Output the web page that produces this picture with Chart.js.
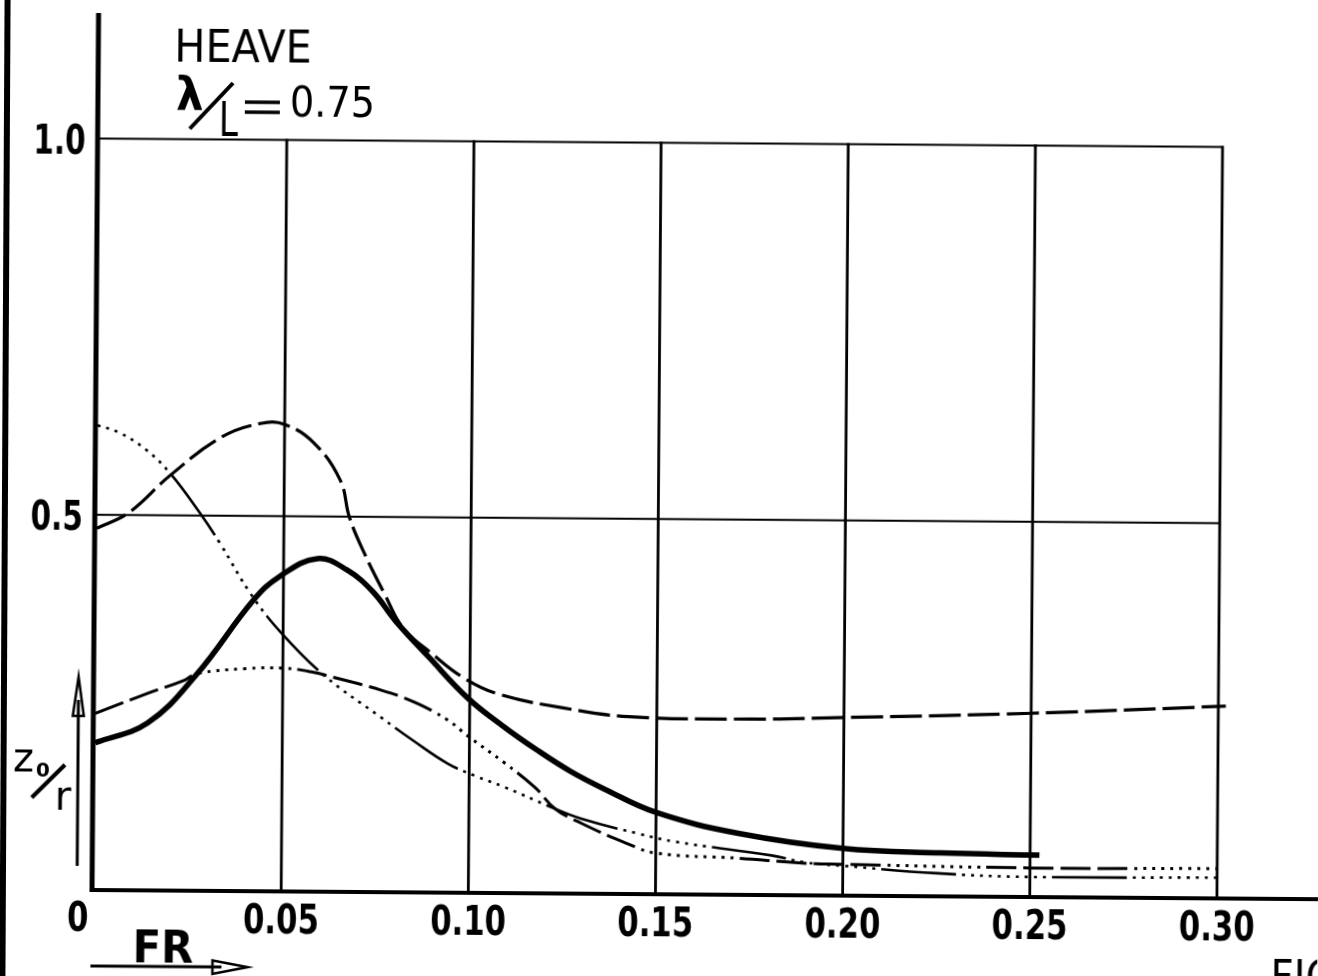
<!DOCTYPE html>
<html>
<head>
<meta charset="utf-8">
<title>Heave z0/r vs FR</title>
<script src="https://cdn.jsdelivr.net/npm/chart.js@4.4.1/dist/chart.umd.min.js"></script>
<style>
  html, body { margin: 0; padding: 0; background: #fff; overflow: hidden; }
  #wrap { position: relative; width: 1318px; height: 976px; }
  #heaveChart { position: absolute; left: 0; top: 0; transform: rotate(0.43deg); transform-origin: 92px 891px; }
  #edge { position: absolute; left: 2px; top: 0; width: 6px; height: 976px; background: #000; transform: rotate(0.3deg); }
</style>
</head>
<body>
<div id="wrap">
  <canvas id="heaveChart" width="1318" height="976"></canvas>
  <div id="edge"></div>
</div>
<script>
// heave response curves, lambda/L = 0.75
const frHeavy = [0, 0.014, 0.027, 0.042, 0.049, 0.059, 0.067, 0.074, 0.080, 0.089, 0.0995, 0.109, 0.118, 0.127, 0.136, 0.150, 0.172, 0.200, 0.226, 0.2525];
const zHeavy  = [0.197, 0.224, 0.289, 0.388, 0.420, 0.444, 0.429, 0.400, 0.362, 0.314, 0.260, 0.223, 0.192, 0.164, 0.141, 0.110, 0.083, 0.064, 0.059, 0.057];

const frLongDash = [0, 0.0085, 0.0195, 0.033, 0.0435, 0.050, 0.058, 0.065, 0.0675, 0.0716, 0.077, 0.082, 0.090, 0.098, 0.1075, 0.125, 0.1425, 0.175, 0.200, 0.250, 0.302];
const zLongDash  = [0.482, 0.503, 0.553, 0.604, 0.623, 0.622, 0.597, 0.548, 0.499, 0.451, 0.398, 0.353, 0.318, 0.288, 0.266, 0.248, 0.237, 0.235, 0.238, 0.2455, 0.257];

const frChain = [0, 0.006, 0.013, 0.0195, 0.0276, 0.033, 0.0412, 0.0493, 0.061, 0.0762, 0.085, 0.0942, 0.1015, 0.1095, 0.122, 0.130, 0.145, 0.1555, 0.181, 0.190, 0.200, 0.225, 0.250, 0.300];
const zChain  = [0.619, 0.609, 0.587, 0.556, 0.503, 0.463, 0.397, 0.346, 0.289, 0.234, 0.203, 0.173, 0.157, 0.142, 0.116, 0.101, 0.082, 0.071, 0.054, 0.045, 0.041, 0.032, 0.028, 0.029];

const frDashDot = [0, 0.0138, 0.0237, 0.027, 0.040, 0.0504, 0.058, 0.0638, 0.0762, 0.0853, 0.0941, 0.0995, 0.1095, 0.1176, 0.123, 0.130, 0.142, 0.150, 0.172, 0.190, 0.200, 0.250, 0.300];
const zDashDot  = [0.236, 0.263, 0.281, 0.290, 0.297, 0.298, 0.293, 0.286, 0.270, 0.254, 0.231, 0.210, 0.174, 0.142, 0.114, 0.095, 0.069, 0.056, 0.050, 0.044, 0.043, 0.040, 0.041];

const xTicks = [0.05, 0.10, 0.15, 0.20, 0.25, 0.30];
const xTickLabels = ['0.05', '0.10', '0.15', '0.20', '0.25', '0.30'];
const yTicks = [0.5, 1.0];
const yTickLabels = ['0.5', '1.0'];

function pts(xs, ys) {
  return xs.map((x, i) => ({ x: x, y: ys[i] }));
}

function repeat(pattern, n) {
  let out = [];
  for (let i = 0; i < n; i++) out = out.concat(pattern);
  return out;
}

function label(ctx, str, x, y, size, weight, sx, align) {
  ctx.save();
  ctx.font = weight + ' ' + size + 'px "DejaVu Sans", sans-serif';
  ctx.translate(x, y);
  ctx.scale(sx, 1);
  ctx.textAlign = align;
  ctx.textBaseline = 'alphabetic';
  ctx.fillStyle = '#000';
  ctx.fillText(str, 0, 0);
  ctx.restore();
}

function line(ctx, x1, y1, x2, y2, w) {
  ctx.beginPath();
  ctx.moveTo(x1, y1);
  ctx.lineTo(x2, y2);
  ctx.lineWidth = w;
  ctx.stroke();
}

// grid, axes and all lettering
const frame = {
  id: 'frame',
  beforeDatasetsDraw(chart) {
    const ctx = chart.ctx;
    const xs = chart.scales.x, ys = chart.scales.y;
    ctx.save();
    ctx.strokeStyle = '#000';
    ctx.lineCap = 'butt';
    xTicks.forEach(t => {
      const px = xs.getPixelForValue(t);
      line(ctx, px, ys.getPixelForValue(0), px, ys.getPixelForValue(1.0) - 1, 2.8);
    });
    yTicks.forEach(t => {
      const py = ys.getPixelForValue(t);
      line(ctx, xs.getPixelForValue(0), py, xs.getPixelForValue(0.30) + 1, py, 2.2);
    });
    // axes
    const x0 = xs.getPixelForValue(0) - 2;
    const y0 = ys.getPixelForValue(0) - 1;
    line(ctx, x0, y0 + 2, x0, ys.top, 5);
    line(ctx, x0 - 2, y0, chart.width, y0, 4);
    ctx.restore();
  },
  afterDraw(chart) {
    const ctx = chart.ctx;
    const xs = chart.scales.x, ys = chart.scales.y;
    ctx.save();
    ctx.strokeStyle = '#000';
    ctx.fillStyle = '#000';

    xTicks.forEach((t, i) => label(ctx, xTickLabels[i], xs.getPixelForValue(t), 932, 41, 'bold', 0.75, 'center'));
    label(ctx, '0', 78, 931, 41, 'bold', 0.75, 'center');
    yTicks.forEach((t, i) => label(ctx, yTickLabels[i], 80, ys.getPixelForValue(t) + 15, 41, 'bold', 0.72, 'right'));

    // title block
    label(ctx, 'HEAVE', 168, 61, 45, 'normal', 0.92, 'left');
    label(ctx, 'λ', 170, 109, 46, 'bold', 0.95, 'left');
    line(ctx, 184, 128, 227, 82, 4);
    label(ctx, 'L', 213, 135, 48, 'normal', 0.72, 'left');
    line(ctx, 239, 101, 274, 101, 3.5);
    line(ctx, 239, 111, 274, 111, 3.5);
    label(ctx, '0.75', 284, 115, 42, 'normal', 0.91, 'left');

    // axis name z0/r with arrow
    label(ctx, 'z', 12, 772, 40, 'normal', 1, 'left');
    label(ctx, '0', 35, 777, 20, 'bold', 1, 'left');
    line(ctx, 31, 798, 64, 765, 4);
    label(ctx, 'r', 54, 810, 40, 'normal', 1, 'left');
    line(ctx, 77, 866, 77, 700, 3);
    ctx.beginPath();
    ctx.moveTo(77, 677);
    ctx.lineTo(71.5, 716);
    ctx.lineTo(82.5, 716);
    ctx.closePath();
    ctx.lineWidth = 2.5;
    ctx.stroke();

    // FR with arrow
    label(ctx, 'FR', 133, 962, 44, 'bold', 0.95, 'left');
    line(ctx, 91, 966, 222, 966, 3);
    ctx.beginPath();
    ctx.moveTo(248, 966);
    ctx.lineTo(213, 959.5);
    ctx.lineTo(213, 973);
    ctx.closePath();
    ctx.lineWidth = 2.5;
    ctx.stroke();

    label(ctx, 'FIG', 1271, 983, 44, 'normal', 0.92, 'left');
    ctx.restore();
  }
};

const ctxHeave = document.getElementById('heaveChart');

new Chart(ctxHeave, {
  type: 'line',
  data: {
    datasets: [
      {
        label: 'heavy',
        data: pts(frHeavy, zHeavy),
        borderColor: '#000',
        borderWidth: 5.5
      },
      {
        label: 'long dash',
        data: pts(frLongDash, zLongDash),
        borderColor: '#000',
        borderWidth: 3.2,
        borderDash: [32, 7]
      },
      {
        label: 'chain',
        data: pts(frChain, zChain),
        borderColor: '#000',
        borderWidth: 2.6,
        borderDash: [75, 6].concat(repeat([3, 6], 10)),
        borderDashOffset: 81
      },
      {
        label: 'dash dot',
        data: pts(frDashDot, zDashDot),
        borderColor: '#000',
        borderWidth: 3,
        borderDash: repeat([30, 7], 4).concat(repeat([3, 6], 11)),
        borderDashOffset: 37
      }
    ]
  },
  options: {
    responsive: false,
    animation: false,
    devicePixelRatio: 1,
    layout: { padding: { left: 94, right: 0, top: 13, bottom: 85 } },
    elements: {
      point: { radius: 0 },
      line: { fill: false, tension: 0.4, borderCapStyle: 'butt' }
    },
    plugins: {
      legend: { display: false },
      tooltip: { enabled: false }
    },
    scales: {
      x: { type: 'linear', min: 0, max: 0.327, display: false },
      y: { type: 'linear', min: 0, max: 1.1668, display: false }
    }
  },
  plugins: [frame]
});
</script>
</body>
</html>
